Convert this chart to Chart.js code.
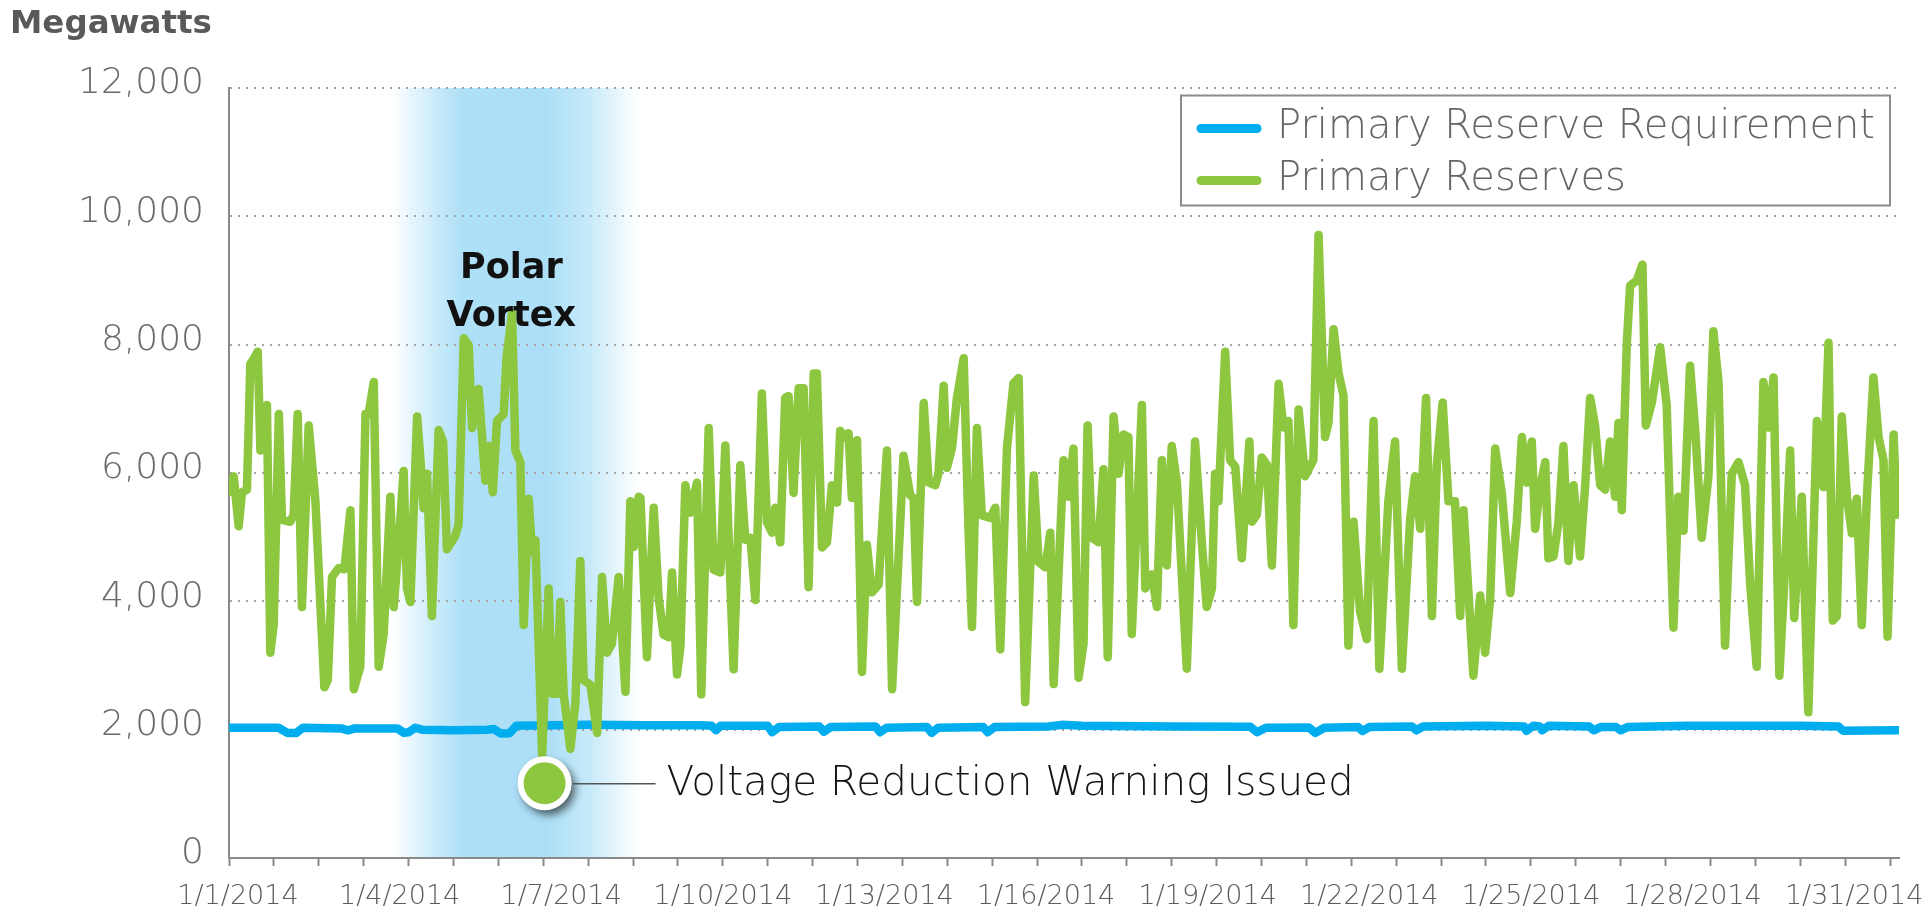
<!DOCTYPE html>
<html>
<head>
<meta charset="utf-8">
<script src="https://cdn.jsdelivr.net/npm/chart.js@4.4.1/dist/chart.umd.min.js"></script>
<style>
  html, body { margin: 0; padding: 0; background: #ffffff; }
  #wrap { position: relative; width: 1929px; height: 916px; overflow: hidden; }
  canvas { display: block; }
</style>
</head>
<body>
<div id="wrap"><canvas id="chart" width="1929" height="916"></canvas></div>
<script>
// ---------------- data ----------------
const seriesNames = ['Primary Reserve Requirement', 'Primary Reserves'];
const yAxisTitle = 'Megawatts';
const xTickLabels = ['1/1/2014','1/4/2014','1/7/2014','1/10/2014','1/13/2014','1/16/2014',
                     '1/19/2014','1/22/2014','1/25/2014','1/28/2014','1/31/2014'];
const yTickValues = [0, 2000, 4000, 6000, 8000, 10000, 12000];
const totalHours = 744;          // January 2014, hourly
const labelEveryHours = 72;      // one date label every 3 days
const tickEveryHours = 20;       // tick marks every 20 hours

// Primary Reserves (green), hour of month -> MW
const greenHours = [
  0,2.1,4.3,5.8,8.0,9.5,11.0,12.8,14.0,15.5,16.9,18.4,19.9,22.2,23.6,27.3,28.8,30.6,32.5,35.5,
  38.5,42.5,44.0,45.9,48.9,51.4,54.1,55.6,58.5,60.8,62.2,64.5,66.7,68.9,71.9,73.4,75.6,77.8,79.3,80.8,
  83.8,85.3,86.7,88.2,90.4,93.4,95.4,97.1,100.8,102.3,104.6,106.8,108.3,111.2,114.2,115.7,117.5,119.4,122.4,123.6,
  126.1,127.6,129.8,131.3,133.5,135.0,136.5,139.5,142.4,143.9,146.1,147.6,149.1,152.1,154.3,156.5,158.0,161.0,164.0,166.2,
  168.4,170.6,173.6,176.6,178.8,180.3,182.5,
  183.3,186.2,189.2,191.4,193.6,195.9,197.4,199.6,201.1,203.3,205.5,208.5,210.4,213.7,215.9,218.9,221.1,224.8,227.8,230.0,
  232.3,234.5,237.4,239.7,241.9,243.4,245.6,247.8,249.3,251.5,253.8,256.0,258.2,260.5,261.9,264.2,266.4,268.6,270.9,272.3,
  273.8,276.0,277.5,279.8,282.0,284.2,286.4,289.4,293.1,295.4,300.5,303.5,305.0,306.5,309.5,311.7,314.7,316.1,318.4,319.8,
  322.1,324.3,327.3,329.5,331.0,333.2,335.4,339.2,341.4,343.6,346.6,349.5,351.8,354.7,358.5,360.7,363.7,365.9,367.4,
  371.8,374.0,376.2,378.5,380.7,382.5,384.4,387.4,389.6,391.5,394.1,396.3,398.5,400.7,402.2,406.7,408.2,411.1,413.4,415.6,
  417.8,420.0,422.3,426.7,430.4,433.4,435.6,437.9,439.3,440.8,443.8,446.0,448.3,451.2,454.6,455.7,457.9,460.1,462.4,464.6,
  467.6,469.8,472.0,474.2,476.5,479.4,483.1,485.4,488.3,489.8,492.1,494.3,496.5,498.7,501.0,503.9,506.9,509.9,512.5,516.5,
  519.5,522.5,526.2,528.4,530.7,533.3,535.9,538.1,540.7,543.3,546.2,548.5,550.0,554.4,557.4,559.6,
  561.9,564.1,567.1,570.8,573.7,576.0,578.2,580.4,581.9,584.1,586.4,587.8,590.1,592.3,594.5,596.7,599.0,601.9,604.2,606.4,
  608.6,610.9,613.1,615.3,617.5,619.0,620.5,622.7,624.2,627.2,629.7,631.2,633.9,637.6,640.5,643.5,645.7,648.0,650.9,653.2,
  656.1,659.1,661.3,663.6,666.5,669.5,672.5,675.4,677.7,680.6,683.6,685.8,688.1,690.7,693.3,695.5,697.3,700.7,703.6,707.4,
  710.3,712.6,714.5,716.3,718.5,720.8,723.0,725.2,727.4,729.7,732.6,734.9,737.1,738.9,741.6,743.0
];
const greenMW = [
  5700,5950,5170,5700,5740,7700,7780,7890,6350,6990,7060,3200,3630,6920,5270,5240,5350,6920,3910,6740,
  5560,2660,2770,4380,4520,4500,5420,2630,2980,6920,6920,7420,2980,3490,5630,3910,4920,6030,4200,3990,
  6880,6200,5450,5990,3770,6670,6490,4810,5020,5200,8100,7990,6700,7310,5880,6420,5700,6810,6920,7780,
  8490,6350,6170,3630,5600,4770,4950,1600,4200,2560,2560,3990,2560,1700,2410,4630,2770,2700,1950,4380,
  3200,3340,4380,2590,5560,4850,5630,
  5610,3130,5460,4060,3480,3440,4450,2860,3290,5810,5380,5850,2550,6700,4490,4450,6430,2940,6120,4960,
  4990,4020,7240,5230,5070,5460,4920,7170,7200,5690,7320,7320,4220,7550,7550,4840,4920,5810,5540,6660,
  6550,6620,5610,6510,2900,4880,4140,4260,6350,2630,6270,5650,5610,3990,7090,5850,5810,6000,7360,6080,
  6390,7170,7790,5070,3600,6700,5340,5300,5460,3250,6390,7400,7480,2430,5960,4610,4530,5070,2710,
  6200,5630,6380,2810,3340,6740,4990,4920,6060,3130,6880,5990,6600,6560,3490,7060,4200,4420,3910,6200,
  4560,6420,5850,2950,6490,4920,3910,4200,5990,5560,7890,6200,6100,4670,6490,5240,5350,6240,6130,4560,
  7390,6710,6810,3630,6990,5950,6200,9710,6560,6780,8240,7560,7210,3310,5240,3840,3410,6810,2950,5560,
  6490,2950,5270,5950,5130,7170,3770,6130,7100,5560,5560,3770,5420,2840,4090,3200,
  4060,6380,5670,4130,5240,6560,5850,6490,5130,5780,6170,4670,4700,5240,6420,4630,5810,4700,5810,7170,
  6740,5810,5740,6490,5630,6780,5420,7990,8920,9000,9250,6740,7100,7960,7060,3590,5630,5100,7670,6670,
  4990,5950,8210,7420,3310,5990,6170,5810,4270,2980,7420,6710,7490,2840,4560,6350,3740,5630,2270,6810,
  5780,8030,3700,3770,6880,5630,5060,5600,3630,5630,7490,6560,6200,3450,6600,5350
];

// Primary Reserve Requirement (blue), hour of month -> MW
const blueHours = [
  0,22,26,30,33,50,53,56,75,78,80,83,86,100,115,118,121,125,128,160,
  185,210,215,217,219,240,242,245,263,265,268,288,290,293,311,313,316,336,338,341,
  365,371,380,420,455,458,462,481,484,488,503,505,508,527,529,532,560,577,578,581,
  584,585,588,606,608,611,618,620,623,650,700,717,719,744
];
const blueMW = [
  2030,2030,1950,1950,2030,2020,1990,2020,2020,1950,1960,2030,2000,1990,2000,2010,1940,1945,2060,2075,
  2070,2070,2060,1990,2060,2060,1960,2040,2050,1970,2040,2050,1960,2030,2040,1950,2030,2040,1960,2040,
  2050,2075,2060,2050,2045,1960,2030,2035,1950,2030,2040,1980,2040,2050,1990,2050,2060,2050,1980,2060,
  2050,1990,2060,2050,1990,2040,2040,1990,2040,2060,2060,2050,1985,1990
];

// annotations (data units)
const warningPoint = { hour: 140.6, mw: 1165, text: 'Voltage Reduction Warning Issued' };
const polarVortex = { startHour: 73, endHour: 183, labelHour: 125.8, lines: ['Polar', 'Vortex'], lineMW: [9040, 8290] };

// ---------------- styling ----------------
const GREEN = '#8dc63f';
const BLUE = '#00aeef';
const AXIS = '#8a8a8a';
const FONT = '"DejaVu Sans", "Liberation Sans", sans-serif';
const MARKER_R = 24, MARKER_BORDER = 6;

const xTickValues = [];
for (let h = 0; h <= totalHours; h += 4) {
  if ((h % tickEveryHours === 0 && h < totalHours) || (h % labelEveryHours === 0 && h / labelEveryHours < xTickLabels.length)) xTickValues.push(h);
}

const bandPlugin = {
  id: 'band',
  beforeDraw(chart) {
    const { ctx, chartArea, scales } = chart;
    const x0 = scales.x.getPixelForValue(polarVortex.startHour);
    const x1 = scales.x.getPixelForValue(polarVortex.endHour);
    const g = ctx.createLinearGradient(x0, 0, x1, 0);
    g.addColorStop(0.00, 'rgba(174,224,247,0)');
    g.addColorStop(0.14, 'rgba(174,224,247,0.55)');
    g.addColorStop(0.28, 'rgba(174,224,247,1)');
    g.addColorStop(0.62, 'rgba(172,223,247,1)');
    g.addColorStop(0.80, 'rgba(180,227,248,0.75)');
    g.addColorStop(1.00, 'rgba(190,230,249,0)');
    ctx.save();
    ctx.fillStyle = g;
    ctx.fillRect(x0, chartArea.top, x1 - x0, chartArea.bottom - chartArea.top);
    ctx.restore();
  }
};

// soft drop shadow behind the warning marker (drawn before the marker itself)
const shadowPlugin = {
  id: 'markerShadow',
  beforeDatasetDraw(chart, args) {
    if (args.index !== 0) return;
    const el = chart.getDatasetMeta(0).data[0];
    if (!el) return;
    const ctx = chart.ctx;
    ctx.save();
    ctx.shadowColor = 'rgba(0,0,0,0.6)';
    ctx.shadowBlur = 9;
    ctx.shadowOffsetX = 4;
    ctx.shadowOffsetY = 5;
    ctx.fillStyle = '#ffffff';
    ctx.beginPath();
    ctx.arc(el.x, el.y, MARKER_R + MARKER_BORDER / 2 - 0.5, 0, Math.PI * 2);
    ctx.fill();
    ctx.restore();
  }
};

const annotationPlugin = {
  id: 'annotations',
  afterDraw(chart) {
    const { ctx, chartArea, scales } = chart;
    ctx.save();
    // y-axis title
    ctx.fillStyle = '#595959';
    ctx.font = `bold 32.5px ${FONT}`;
    ctx.textAlign = 'left';
    ctx.textBaseline = 'alphabetic';
    ctx.fillText(yAxisTitle, 10, 33);

    // Polar Vortex label
    ctx.fillStyle = '#111111';
    ctx.font = `bold 35px ${FONT}`;
    ctx.textAlign = 'center';
    const px = scales.x.getPixelForValue(polarVortex.labelHour);
    polarVortex.lines.forEach((t, i) => ctx.fillText(t, px, scales.y.getPixelForValue(polarVortex.lineMW[i])));

    // voltage warning callout
    const mx = scales.x.getPixelForValue(warningPoint.hour);
    const my = scales.y.getPixelForValue(warningPoint.mw);
    ctx.strokeStyle = '#555555';
    ctx.lineWidth = 1.6;
    ctx.beginPath();
    ctx.moveTo(mx + 28, my + 0.5);
    ctx.lineTo(mx + 111, my + 0.5);
    ctx.stroke();
    ctx.fillStyle = '#151515';
    ctx.font = `200 40.5px ${FONT}`;
    ctx.textAlign = 'left';
    ctx.fillText(warningPoint.text, mx + 122, my + 12);

    // legend box
    const bx = chartArea.right - 718, by = chartArea.top + 7.5, bw = 709, bh = 110;
    ctx.strokeStyle = '#8c8c8c';
    ctx.lineWidth = 2;
    ctx.strokeRect(bx, by, bw, bh);
    const items = [
      { text: seriesNames[0], color: BLUE, y: by + 33 },
      { text: seriesNames[1], color: GREEN, y: by + 85 }
    ];
    ctx.font = `200 40px ${FONT}`;
    items.forEach(it => {
      ctx.strokeStyle = it.color;
      ctx.lineWidth = 9;
      ctx.lineCap = 'round';
      ctx.beginPath();
      ctx.moveTo(bx + 20, it.y);
      ctx.lineTo(bx + 76, it.y);
      ctx.stroke();
      ctx.fillStyle = '#666666';
      ctx.fillText(it.text, bx + 96, it.y + 9);
    });
    ctx.restore();
  }
};

const chart = new Chart(document.getElementById('chart'), {
  type: 'line',
  data: {
    datasets: [
      {
        label: warningPoint.text,
        data: [{ x: warningPoint.hour, y: warningPoint.mw }],
        showLine: false,
        pointRadius: MARKER_R,
        pointHoverRadius: MARKER_R,
        pointBorderWidth: MARKER_BORDER,
        pointBackgroundColor: GREEN,
        pointBorderColor: '#ffffff'
      },
      {
        label: seriesNames[1],
        data: greenHours.map((h, i) => ({ x: h, y: greenMW[i] })),
        borderColor: GREEN,
        borderWidth: 8.5,
        pointRadius: 0,
        tension: 0,
        borderJoinStyle: 'round',
        borderCapStyle: 'round'
      },
      {
        label: seriesNames[0],
        data: blueHours.map((h, i) => ({ x: h, y: blueMW[i] })),
        borderColor: BLUE,
        borderWidth: 8.5,
        pointRadius: 0,
        tension: 0,
        borderJoinStyle: 'round',
        borderCapStyle: 'round'
      }
    ]
  },
  options: {
    responsive: false,
    animation: false,
    devicePixelRatio: 1,
    layout: { padding: { top: 88, right: 30, bottom: 0, left: 0 } },
    plugins: { legend: { display: false }, tooltip: { enabled: false } },
    scales: {
      x: {
        type: 'linear',
        min: 0,
        max: totalHours,
        afterBuildTicks: s => { s.ticks = xTickValues.map(v => ({ value: v })); },
        afterFit: s => { s.height = 58; },
        grid: {
          drawOnChartArea: false,
          drawTicks: true,
          tickLength: 8,
          tickWidth: 2,
          tickColor: c => (c.tick && c.tick.value % tickEveryHours === 0) ? AXIS : 'rgba(0,0,0,0)'
        },
        border: { display: true, color: AXIS, width: 2 },
        ticks: {
          autoSkip: false,
          maxRotation: 0,
          minRotation: 0,
          padding: 15,
          labelOffset: 9,
          color: '#5c5c5c',
          font: { family: FONT, size: 27, weight: 200 },
          callback: v => (v % labelEveryHours === 0) ? (xTickLabels[v / labelEveryHours] || '') : ''
        }
      },
      y: {
        min: 0,
        max: 12000,
        afterBuildTicks: s => { s.ticks = yTickValues.map(v => ({ value: v })); },
        afterFit: s => { s.width = 229; },
        grid: {
          drawTicks: false,
          lineWidth: 2,
          color: c => (c.tick && c.tick.value === 0) ? 'rgba(0,0,0,0)' : '#a6a6a6'
        },
        border: { display: true, color: AXIS, width: 2, dash: [2, 6] },
        ticks: {
          padding: 25,
          labelOffset: -4,
          color: '#6a6a6a',
          font: { family: FONT, size: 36, weight: 200 },
          callback: v => v.toLocaleString('en-US')
        }
      }
    }
  },
  plugins: [bandPlugin, shadowPlugin, annotationPlugin]
});
</script>
</body>
</html>
